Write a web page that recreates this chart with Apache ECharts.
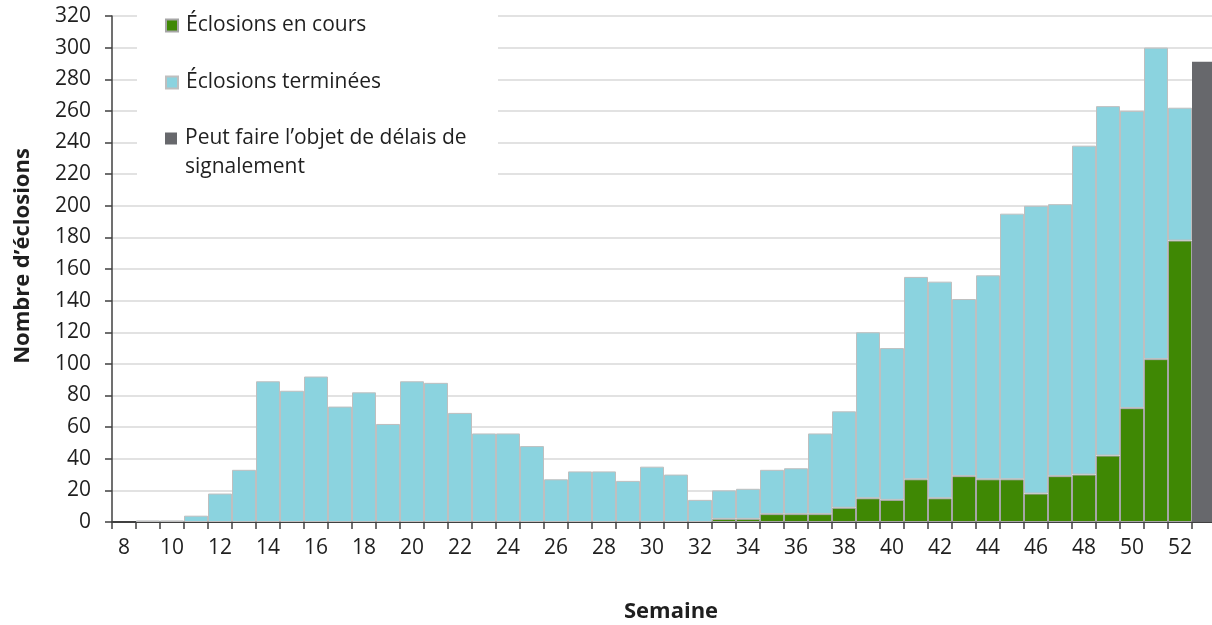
<!DOCTYPE html>
<html><head><meta charset="utf-8">
<script src="https://cdn.jsdelivr.net/npm/echarts@6/dist/echarts.min.js"></script>
<style>html,body{margin:0;padding:0;overflow:hidden;background:#fff}#c{width:1216px;height:625px}</style>
</head><body><div id="c"></div>
<script>
const weeks = ['8','9','10','11','12','13','14','15','16','17','18','19','20','21','22','23','24','25','26','27','28','29','30','31','32','33','34','35','36','37','38','39','40','41','42','43','44','45','46','47','48','49','50','51','52','53'];
const enCours = [null,null,null,null,null,null,null,null,null,null,null,null,null,null,null,null,null,null,null,null,null,null,null,null,null,
  2,2,5,5,5,9,15,14,27,15,29,27,27,18,29,30,42,72,103,178,null];
const terminees = [null,1,1,4,18,33,89,83,92,73,82,62,89,88,69,56,56,48,27,32,32,26,35,30,14,
  18,19,28,29,51,61,105,96,128,137,112,129,168,182,172,208,221,188,197,84,null];
const delais = [null,null,null,null,null,null,null,null,null,null,null,null,null,null,null,null,null,null,null,null,null,null,null,null,null,
  null,null,null,null,null,null,null,null,null,null,null,null,null,null,null,null,null,null,null,null,291];
const yMin = 0, yMax = 320, yStep = 20;
const names = ['Éclosions en cours', 'Éclosions terminées', 'Peut faire l’objet de délais de\nsignalement'];

const FONT = 'Open Sans';
const txt = '#1F1F1F';
const chart = echarts.init(document.getElementById('c'), null, {renderer: 'canvas'});
const legendBase = {
  orient: 'vertical', left: 165, padding: 0, itemWidth: 12, itemHeight: 12, icon: 'rect',
  textStyle: {fontFamily: FONT, fontSize: 21, color: txt, lineHeight: 29, padding: [0,0,0,3]},
  z: 10, selectedMode: false
};
chart.setOption({
  animation: false,
  textStyle: {fontFamily: FONT},
  grid: {left: 112, right: 0, top: 16, bottom: 103, containLabel: false},
  legend: [
    Object.assign({}, legendBase, {top: 11, data: [names[0]]}),
    Object.assign({}, legendBase, {top: 68, data: [names[1]]}),
    Object.assign({}, legendBase, {top: 95, data: [names[2]], formatter: n => '\n' + n})
  ],
  graphic: [
    {type: 'rect', shape: {x: 137, y: 0, width: 361, height: 190}, style: {fill: '#fff'}, z: 3, silent: true},
    {type: 'text', x: 23, y: 256, rotation: Math.PI / 2, z: 10,
      style: {text: 'Nombre d’éclosions', fontFamily: FONT, fontWeight: 'bold', fontSize: 22, fill: txt, align: 'center', verticalAlign: 'middle'}},
    {type: 'text', x: 671, y: 612, z: 10,
      style: {text: 'Semaine', fontFamily: FONT, fontWeight: 'bold', fontSize: 22, fill: txt, align: 'center', verticalAlign: 'middle'}}
  ],
  xAxis: {
    type: 'category', data: weeks, boundaryGap: true,
    axisLine: {lineStyle: {color: '#404040', width: 2}},
    axisTick: {show: true, interval: 0, alignWithLabel: false, length: 7, lineStyle: {color: '#404040', width: 1.5}},
    axisLabel: {interval: 1, margin: 16, fontFamily: FONT, fontSize: 21, color: txt},
    splitLine: {show: false}
  },
  yAxis: {
    type: 'value', min: yMin, max: yMax, interval: yStep,
    axisLine: {show: true, lineStyle: {color: '#404040', width: 1.5}},
    axisTick: {show: true, length: 7, lineStyle: {color: '#404040', width: 1.5}},
    axisLabel: {margin: 21, fontFamily: FONT, fontSize: 21, color: txt},
    splitLine: {lineStyle: {color: '#D9D9D9', width: 1.5}}
  },
  series: [
    {name: names[0], type: 'bar', stack: 'a', data: enCours, barCategoryGap: '0%',
      itemStyle: {color: '#3F8804', borderColor: '#A6A6A6', borderWidth: 1}},
    {name: names[1], type: 'bar', stack: 'a', data: terminees, barCategoryGap: '0%',
      itemStyle: {color: '#8BD3DF', borderColor: '#BFBFBF', borderWidth: 1}},
    {name: names[2], type: 'bar', stack: 'a', data: delais, barCategoryGap: '0%',
      itemStyle: {color: '#67686C', borderWidth: 0}}
  ]
});
</script></body></html>
